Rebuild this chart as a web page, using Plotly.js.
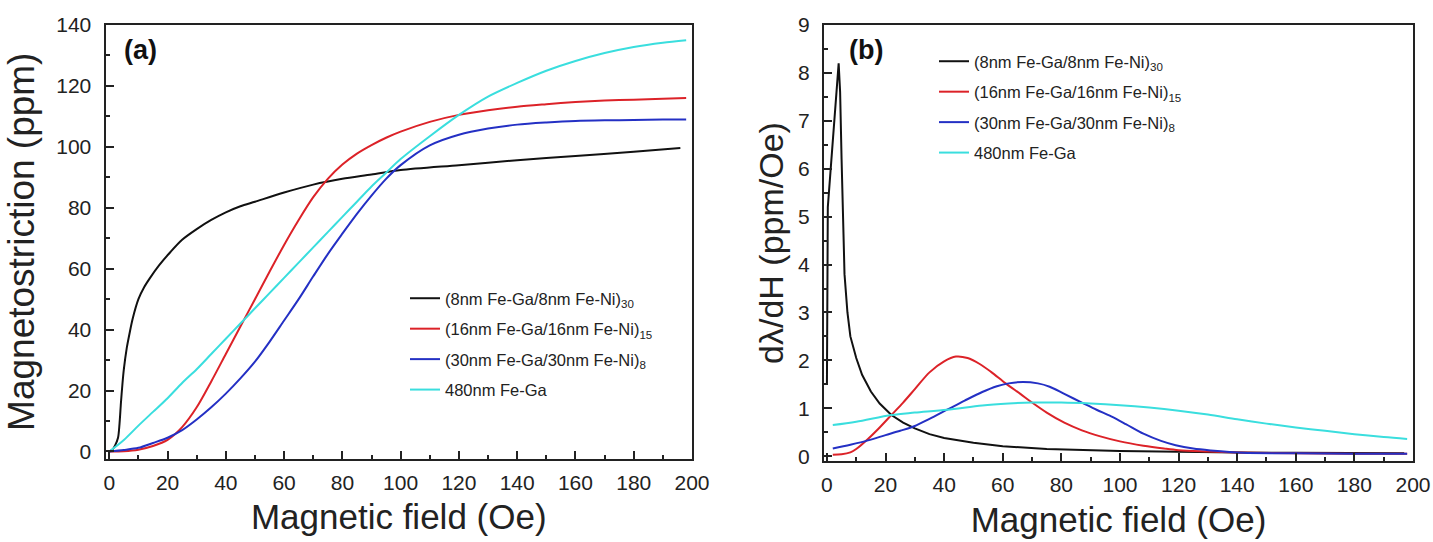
<!DOCTYPE html>
<html>
<head>
<meta charset="utf-8">
<script src="https://cdn.plot.ly/plotly-3.0.1.min.js"></script>
<style>
html,body{margin:0;padding:0;background:#fff;}
#chart{width:1433px;height:542px;}
</style>
</head>
<body>
<div id="chart"></div>
<script>
// ---------- Panel (a): magnetostriction vs field ----------
const seriesNames = [
  '(8nm Fe-Ga/8nm Fe-Ni)<sub>30</sub>',
  '(16nm Fe-Ga/16nm Fe-Ni)<sub>15</sub>',
  '(30nm Fe-Ga/30nm Fe-Ni)<sub>8</sub>',
  '480nm Fe-Ga'
];
const seriesColors = ['#111111', '#dc2228', '#2430c4', '#3adede'];

const fieldA_black = [0, 1, 2, 3, 3.5, 4, 4.5, 5, 6, 7, 8, 10, 12, 14, 17, 21, 25, 30, 35, 40, 45, 50, 60, 70, 80, 90, 100, 120, 140, 160, 180, 196];
const lambdaA_black = [0, 0.5, 2, 4.5, 9, 16, 22, 27, 34, 39, 43.5, 50, 54, 57, 61, 65.5, 69.5, 73, 76, 78.5, 80.5, 82, 85, 87.6, 89.5, 90.9, 92.4, 94, 95.6, 97, 98.4, 99.6];

const fieldA = [0, 5, 10, 15, 20, 25, 30, 35, 40, 45, 50, 55, 60, 65, 70, 75, 80, 85, 90, 95, 100, 110, 120, 130, 140, 150, 160, 170, 180, 190, 198];
const lambdaA_red  = [0, 0.1, 0.6, 1.8, 3.8, 8, 14.5, 23, 32, 41, 50, 59, 67.8, 76, 83.5, 89.5, 94.2, 97.8, 100.6, 103, 105, 108.2, 110.5, 112, 113.2, 114, 114.7, 115.2, 115.5, 115.8, 116];
const lambdaA_blue = [0, 0.5, 1.2, 2.8, 4.5, 7, 10.5, 14.5, 19, 24, 29.5, 36, 43, 50, 57.5, 64.8, 71.5, 78, 84, 89.5, 94, 100.5, 104, 106, 107.3, 108, 108.5, 108.7, 108.8, 109, 109];
const lambdaA_cyan = [0, 3.8, 8.5, 13, 17.5, 22.5, 27, 32, 37, 42, 47, 52, 57, 62, 67, 72, 77, 82, 87, 91.5, 96, 103.5, 110.5, 116.5, 121, 125, 128.2, 130.8, 132.8, 134.2, 135];

// ---------- Panel (b): d(lambda)/dH vs field ----------
const fieldB_black = [0, 0.3, 4, 4.5, 5, 5.5, 6, 7, 8, 10, 12, 15, 18, 22, 26, 30, 35, 40, 50, 60, 75, 100, 120, 140, 160, 180, 197];
const dldhB_black  = [1.5, 5.2, 8.2, 7.6, 6.2, 4.6, 3.8, 3.0, 2.5, 2.05, 1.7, 1.35, 1.1, 0.86, 0.7, 0.58, 0.46, 0.38, 0.28, 0.21, 0.15, 0.11, 0.09, 0.08, 0.07, 0.065, 0.06];

const fieldB_red = [2, 5, 8, 10, 14, 18, 22, 26, 30, 35, 40, 44, 48, 52, 56, 61, 66, 70, 75, 81, 87, 93, 100, 108, 115, 120, 130, 140, 160, 180, 198];
const dldhB_red  = [0.03, 0.04, 0.08, 0.15, 0.36, 0.6, 0.86, 1.12, 1.4, 1.75, 1.98, 2.08, 2.05, 1.93, 1.76, 1.52, 1.3, 1.12, 0.91, 0.7, 0.54, 0.42, 0.31, 0.22, 0.16, 0.125, 0.1, 0.08, 0.06, 0.05, 0.05];

const fieldB_blue = [2, 8, 14, 20, 25, 30, 35, 41, 47, 53, 58, 62, 67, 72, 76, 81, 87, 92, 97, 102, 108, 114, 119, 125, 131, 142, 160, 180, 198];
const dldhB_blue  = [0.16, 0.24, 0.33, 0.44, 0.53, 0.63, 0.78, 0.97, 1.16, 1.34, 1.46, 1.52, 1.55, 1.52, 1.45, 1.3, 1.12, 0.97, 0.83, 0.67, 0.47, 0.32, 0.23, 0.16, 0.12, 0.07, 0.06, 0.05, 0.05];

const fieldB_cyan = [2, 10, 22, 30, 41, 53, 62, 70, 80, 90, 100, 110, 120, 130, 140, 150, 160, 170, 180, 190, 198];
const dldhB_cyan  = [0.65, 0.72, 0.86, 0.91, 0.97, 1.06, 1.1, 1.12, 1.12, 1.1, 1.065, 1.015, 0.95, 0.87, 0.77, 0.68, 0.6, 0.53, 0.46, 0.4, 0.36];

const xTitle = 'Magnetic field (Oe)';
const yTitleA = 'Magnetostriction (ppm)';
const yTitleB = 'd\u03bb/dH (ppm/Oe)';

const FONT = 'Liberation Sans, Arial, sans-serif';

const aX = [fieldA_black, fieldA, fieldA, fieldA];
const aY = [lambdaA_black, lambdaA_red, lambdaA_blue, lambdaA_cyan];
const bX = [fieldB_black, fieldB_red, fieldB_blue, fieldB_cyan];
const bY = [dldhB_black, dldhB_red, dldhB_blue, dldhB_cyan];

const traces = [];
for (let i = 0; i < 4; i++) {
  traces.push({
    x: aX[i], y: aY[i], type: 'scatter', mode: 'lines',
    name: seriesNames[i], legend: 'legend', legendgroup: 'a' + i,
    line: {color: seriesColors[i], width: 2, shape: 'spline', smoothing: 0.8},
    xaxis: 'x', yaxis: 'y'
  });
}
for (let i = 0; i < 4; i++) {
  traces.push({
    x: bX[i], y: bY[i], type: 'scatter', mode: 'lines',
    name: seriesNames[i], legend: 'legend2', legendgroup: 'b' + i,
    line: {color: seriesColors[i], width: 2, shape: i === 0 ? 'linear' : 'spline', smoothing: 0.9},
    xaxis: 'x2', yaxis: 'y2'
  });
}

function xAxis(domain, anchor) {
  return {
    domain: domain, anchor: anchor, range: [-1.3, 200],
    dtick: 20, tick0: 0, ticks: 'inside', ticklen: 8, tickwidth: 2, tickcolor: '#222',
    minor: {dtick: 10, ticks: 'inside', ticklen: 4, tickwidth: 2, tickcolor: '#222'},
    showline: true, linecolor: '#222', linewidth: 2, mirror: true,
    showgrid: false, zeroline: false,
    tickfont: {family: FONT, size: 21, color: '#222'},
    ticklabelstandoff: 4,
    title: {text: xTitle, font: {family: FONT, size: 35, color: '#222'}, standoff: 12}
  };
}

const layout = {
  width: 1433, height: 542,
  margin: {l: 0, r: 0, t: 0, b: 0},
  paper_bgcolor: '#fff', plot_bgcolor: '#fff',
  font: {family: FONT, color: '#222'},
  showlegend: true,
  xaxis: xAxis([105.5 / 1433, 692 / 1433], 'y'),
  yaxis: {
    domain: [(542 - 458.5) / 542, (542 - 25) / 542], anchor: 'x',
    range: [-2.3, 140], dtick: 20, tick0: 0,
    ticks: 'inside', ticklen: 8, tickwidth: 2, tickcolor: '#222',
    minor: {dtick: 10, ticks: 'inside', ticklen: 4, tickwidth: 2, tickcolor: '#222'},
    showline: true, linecolor: '#222', linewidth: 2, mirror: true,
    showgrid: false, zeroline: false,
    tickfont: {family: FONT, size: 21, color: '#222'},
    ticklabelstandoff: 8,
    title: {text: yTitleA, font: {family: FONT, size: 37, color: '#222'}, standoff: 10}
  },
  xaxis2: Object.assign(xAxis([824 / 1433, 1413 / 1433], 'y2'), {range: [-1, 200]}),
  yaxis2: {
    domain: [(542 - 461) / 542, (542 - 25) / 542], anchor: 'x2',
    range: [-0.1, 9], dtick: 1, tick0: 0,
    ticks: 'inside', ticklen: 8, tickwidth: 2, tickcolor: '#222',
    minor: {dtick: 0.5, ticks: 'inside', ticklen: 4, tickwidth: 2, tickcolor: '#222'},
    showline: true, linecolor: '#222', linewidth: 2, mirror: true,
    showgrid: false, zeroline: false,
    tickfont: {family: FONT, size: 21, color: '#222'},
    ticklabelstandoff: 8,
    title: {text: yTitleB, font: {family: FONT, size: 34, color: '#222'}, standoff: 4}
  },
  legend: {
    x: 405 / 1433, y: (542 - 281) / 542, xanchor: 'left', yanchor: 'top',
    bgcolor: 'rgba(0,0,0,0)', borderwidth: 0, tracegroupgap: 6,
    font: {family: FONT, size: 16.5, color: '#222'}
  },
  legend2: {
    x: 934 / 1433, y: (542 - 44) / 542, xanchor: 'left', yanchor: 'top',
    bgcolor: 'rgba(0,0,0,0)', borderwidth: 0, tracegroupgap: 6,
    font: {family: FONT, size: 16.5, color: '#222'}
  },
  annotations: [
    {text: '<b>(a)</b>', xref: 'paper', yref: 'paper', x: 140 / 1433, y: (542 - 50) / 542,
     xanchor: 'center', yanchor: 'middle', showarrow: false,
     font: {family: FONT, size: 27, color: '#111'}},
    {text: '<b>(b)</b>', xref: 'paper', yref: 'paper', x: 866 / 1433, y: (542 - 50) / 542,
     xanchor: 'center', yanchor: 'middle', showarrow: false,
     font: {family: FONT, size: 27, color: '#111'}}
  ]
};

Plotly.newPlot('chart', traces, layout, {displayModeBar: false, staticPlot: true});
</script>
</body>
</html>
